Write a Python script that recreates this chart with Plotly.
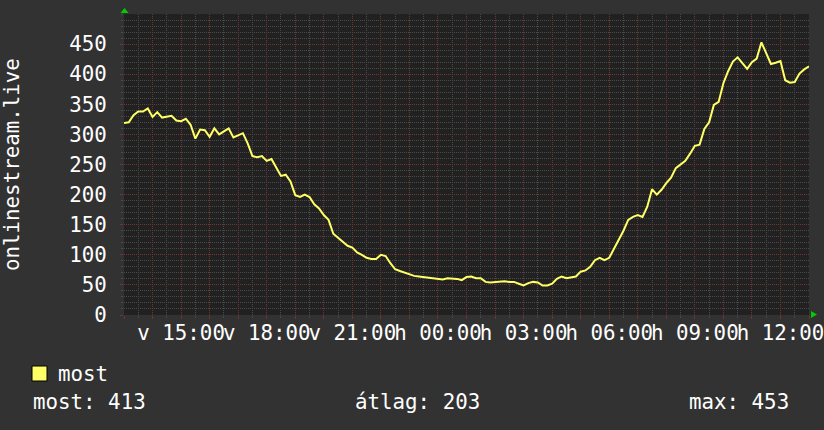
import pandas as pd
import plotly.graph_objects as go

# ---------------- data ----------------
START = "2024-01-07 13:00"   # Sunday (v) 13:00
END = "2024-01-08 13:00"     # Monday (h) 13:00
STEP_MIN = 10

most_values = [
    319, 320, 332, 338, 338, 343, 329, 337, 328, 330,
    331, 323, 322, 326, 316, 293, 308, 307, 296, 310,
    300, 305, 310, 295, 299, 302, 285, 264, 262, 264,
    256, 259, 245, 231, 233, 222, 199, 196, 200, 196,
    184, 177, 166, 158, 135, 128, 122, 115, 112, 104,
    100, 95, 93, 93, 100, 98, 86, 76, 73, 70,
    67, 65, 64, 63, 62, 60, 59, 59, 61, 61,
    60, 58, 63, 64, 61, 61, 55, 54, 55, 55,
    56, 55, 55, 52, 49, 53, 55, 54, 49, 49,
    52, 60, 64, 61, 62, 64, 72, 74, 80, 91,
    95, 91, 95, 110, 126, 140, 158, 163, 166, 163,
    180, 209, 200, 208, 219, 228, 244, 250, 256, 268,
    281, 283, 309, 320, 349, 354, 385, 405, 421, 428,
    418, 409, 420, 426, 453, 435, 417, 419, 422, 390,
    386, 387, 401, 408, 413,
]
times = pd.date_range(START, periods=len(most_values), freq=f"{STEP_MIN}min")

tick_times = ["2024-01-07 15:00", "2024-01-07 18:00", "2024-01-07 21:00",
              "2024-01-08 00:00", "2024-01-08 03:00", "2024-01-08 06:00",
              "2024-01-08 09:00", "2024-01-08 12:00"]
tick_labels = ["v 15:00", "v 18:00", "v 21:00", "h 00:00",
               "h 03:00", "h 06:00", "h 09:00", "h 12:00"]
y_ticks = [0, 50, 100, 150, 200, 250, 300, 350, 400, 450]

series_name = "most"
y_title = "onlinestream.live"
stat_texts = ["most: 413", "átlag: 203", "max: 453"]

# ---------------- style ----------------
W, H = 824, 430
PL, PR, PT, PB = 124, 809, 14, 315     # plot area in pixels
BG = "#323232"
PLOT_BG = "#212121"
FG = "#ffffff"
LINE = "#ffff66"
MAJOR = "#703535"
MINOR = "#4a4a4a"
FONT = "DejaVu Sans Mono"
FS = 20.8


def px(x):
    return (x - PL) / (PR - PL)


def py(y):
    return (PB - y) / (PB - PT)


# hourly major grid, labels only every 3 hours
hours = pd.date_range(START, END, freq="1h")
label_map = dict(zip(pd.to_datetime(tick_times), tick_labels))
major_vals = list(hours)
major_text = [label_map.get(h, "") for h in hours]

fig = go.Figure()
fig.add_trace(go.Scatter(
    x=times, y=most_values, mode="lines", name=series_name,
    line=dict(color=LINE, width=2), showlegend=False, hoverinfo="skip",
))

fig.update_layout(
    width=W, height=H,
    margin=dict(l=PL, r=W - PR, t=PT, b=H - PB, autoexpand=False),
    paper_bgcolor=BG, plot_bgcolor=PLOT_BG,
    font=dict(family=FONT, size=FS, color=FG),
    showlegend=False,
)

fig.update_xaxes(
    type="date", range=[START, END], automargin=False,
    tickmode="array", tickvals=major_vals, ticktext=major_text,
    tickangle=0, ticks="outside", ticklen=3, tickcolor=MAJOR,
    showgrid=True, gridcolor=MAJOR, griddash="1px,1px", gridwidth=1,
    showline=False, zeroline=False,
    tickfont=dict(family=FONT, size=FS, color=FG),
    ticklabelstandoff=-4, ticklabeloverflow="allow",
    minor=dict(dtick=1800000, tick0=START, showgrid=True, gridcolor=MINOR,
               griddash="1px,1px", ticks="outside", ticklen=2, tickcolor=MINOR),
)
fig.update_yaxes(
    range=[0, 500], tickmode="array", tickvals=y_ticks, automargin=False,
    ticks="outside", ticklen=3, tickcolor=MAJOR,
    showgrid=True, gridcolor=MAJOR, griddash="1px,1px", gridwidth=1,
    showline=False, zeroline=False,
    tickfont=dict(family=FONT, size=FS, color=FG),
    ticklabelstandoff=9, ticklabeloverflow="allow",
    minor=dict(dtick=10, tick0=0, showgrid=True, gridcolor=MINOR,
               griddash="1px,1px", ticks="outside", ticklen=2, tickcolor=MINOR),
)

# y title
fig.add_annotation(
    text=y_title, xref="paper", yref="paper", x=px(12), y=py(165),
    textangle=-90, showarrow=False, xanchor="center", yanchor="middle",
    font=dict(family=FONT, size=FS, color=FG),
)

# green arrows (axis ends)
fig.add_shape(type="path", xref="paper", yref="paper",
              path=f"M {px(120.5)} {py(13)} L {px(128.5)} {py(13)} L {px(124.5)} {py(8)} Z",
              fillcolor="#00cc00", line=dict(width=0))
fig.add_shape(type="path", xref="paper", yref="paper",
              path=f"M {px(811)} {py(311)} L {px(811)} {py(318)} L {px(817)} {py(314.5)} Z",
              fillcolor="#00cc00", line=dict(width=0))

# legend
fig.add_shape(type="rect", xref="paper", yref="paper",
              x0=px(32), x1=px(47), y0=py(381), y1=py(366),
              fillcolor=LINE, line=dict(color="#000000", width=1))
fig.add_annotation(text=series_name, xref="paper", yref="paper",
                   x=px(56), y=py(374), xanchor="left", yanchor="middle",
                   showarrow=False, font=dict(family=FONT, size=FS, color=FG))
for txt, x0 in zip(stat_texts, [31, 353, 687]):
    fig.add_annotation(text=txt, xref="paper", yref="paper",
                       x=px(x0), y=py(402), xanchor="left", yanchor="middle",
                       showarrow=False, font=dict(family=FONT, size=FS, color=FG))

fig.write_html(
    "out.html",
    config={"displayModeBar": False},
    post_script="document.body.style.margin='0';document.body.style.padding='0';"
                "document.body.style.background='" + BG + "';",
)
